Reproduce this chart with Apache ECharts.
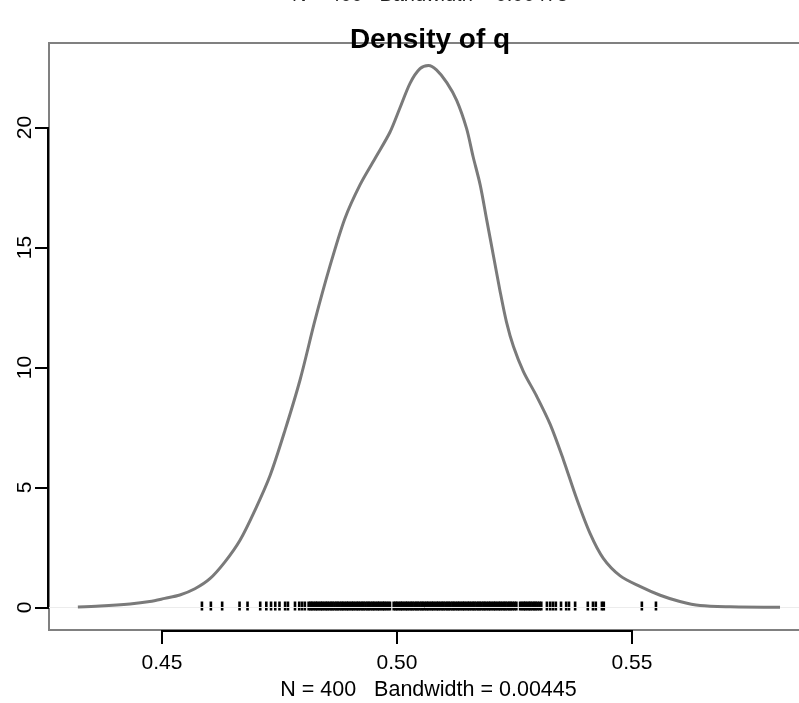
<!DOCTYPE html>
<html>
<head>
<meta charset="utf-8">
<script src="https://cdn.jsdelivr.net/npm/echarts@6/dist/echarts.min.js"></script>
<style>
html,body{margin:0;padding:0;background:#fff;overflow:hidden;}
#c{width:799px;height:703px;}
</style>
</head>
<body>
<div id="c"></div>
<script>
// ---- data ----
var densX = [0.4321, 0.4368, 0.4432, 0.4474, 0.4506, 0.4538, 0.4570, 0.4602, 0.4634, 0.4666,
             0.4698, 0.4730, 0.4762, 0.4794, 0.4826, 0.4857, 0.4889, 0.4921, 0.4953, 0.4985,
             0.5006, 0.5028, 0.5049, 0.5067, 0.5084, 0.5106, 0.5127, 0.5148, 0.5162, 0.5177,
             0.5191, 0.5205, 0.5219, 0.5233, 0.5248, 0.5269, 0.5297, 0.5326, 0.5354, 0.5382,
             0.5411, 0.5439, 0.5475, 0.5517, 0.5560, 0.5602, 0.5645, 0.5709, 0.5815];
var densY = [0.02, 0.06, 0.15, 0.25, 0.38, 0.52, 0.78, 1.20, 1.90, 2.80,
             4.06, 5.50, 7.40, 9.50, 12.00, 14.20, 16.20, 17.60, 18.70, 19.80,
             20.80, 21.85, 22.45, 22.58, 22.40, 21.87, 21.13, 19.96, 18.78, 17.61,
             16.14, 14.68, 13.21, 11.89, 10.86, 9.83, 8.81, 7.63, 6.16, 4.55,
             3.08, 2.05, 1.32, 0.88, 0.51, 0.25, 0.08, 0.03, 0.01];

var rugLeft = [0.4585, 0.4604, 0.4628, 0.4665, 0.4682, 0.4709, 0.4722, 0.4732, 0.4741, 0.4750,
               0.4762, 0.4768, 0.4783, 0.4792, 0.4798, 0.4804];
var rugMid1 = [0.4812, 0.4816, 0.4819, 0.4823, 0.4827, 0.4830, 0.4834, 0.4838, 0.4841, 0.4845,
               0.4849, 0.4852, 0.4856, 0.4860, 0.4863, 0.4867, 0.4871, 0.4874, 0.4878, 0.4882,
               0.4885, 0.4889, 0.4893, 0.4896, 0.4900, 0.4904, 0.4907, 0.4911, 0.4915, 0.4918,
               0.4922, 0.4926, 0.4929, 0.4933, 0.4937, 0.4940, 0.4944, 0.4948, 0.4951, 0.4955,
               0.4959, 0.4962, 0.4966, 0.4970, 0.4973, 0.4977, 0.4981, 0.4985];
var rugMid2 = [0.4993, 0.4997, 0.5000, 0.5004, 0.5008, 0.5011, 0.5015, 0.5019, 0.5022, 0.5026,
               0.5030, 0.5033, 0.5037, 0.5041, 0.5044, 0.5048, 0.5052, 0.5055, 0.5059, 0.5063,
               0.5066, 0.5070, 0.5074, 0.5077, 0.5081, 0.5085, 0.5088, 0.5092, 0.5096, 0.5099,
               0.5103, 0.5107, 0.5110, 0.5114, 0.5118, 0.5121, 0.5125, 0.5129, 0.5132, 0.5136,
               0.5140, 0.5143, 0.5147, 0.5151, 0.5154, 0.5158, 0.5162, 0.5165, 0.5169, 0.5173,
               0.5176, 0.5180, 0.5184, 0.5187, 0.5191, 0.5195, 0.5198, 0.5202, 0.5206, 0.5209,
               0.5213, 0.5217, 0.5220, 0.5224, 0.5228, 0.5231, 0.5235, 0.5239, 0.5242, 0.5246,
               0.5250, 0.5254];
var rugMid3 = [0.5262, 0.5266, 0.5270, 0.5273, 0.5277, 0.5281, 0.5284, 0.5288, 0.5292, 0.5295,
               0.5299, 0.5303, 0.5307];
var rugRight = [0.5319, 0.5326, 0.5332, 0.5338, 0.5349, 0.5360, 0.5366, 0.5379, 0.5406, 0.5417,
                0.5423, 0.5436, 0.5440, 0.5521, 0.5551];

var xTicks = [0.45, 0.50, 0.55];
var xTickLabels = ['0.45', '0.50', '0.55'];
var yTicks = [0, 5, 10, 15, 20];
var yTickLabels = ['0', '5', '10', '15', '20'];

var titleText = 'Density of q';
var xAxisTitle = 'N = 400   Bandwidth = 0.00445';
var clippedTopText = 'N = 400   Bandwidth = 0.00473';

// ---- axis ranges (R-style 4% padding) ----
var xMin = 0.42596, xMax = 0.58745;
var yMin = -0.9375, yMax = 23.52;

var FONT = '"Liberation Sans", Arial, sans-serif';

var curve = densX.map(function (x, i) { return [x, densY[i]]; });
var rugAll = rugLeft.concat(rugMid1, rugMid2, rugMid3, rugRight);
var rugData = rugAll.map(function (x) { return [x, 0]; });

// axis segment drawn through the library's coordinate system, nudged 1px outward like R's axis
function axisSegment(p0, p1, dx, dy) {
  return {
    type: 'custom', silent: true, clip: false, z: 5,
    data: [[p0[0], p0[1], p1[0], p1[1]]],
    renderItem: function (params, api) {
      var a = api.coord([api.value(0), api.value(1)]);
      var b = api.coord([api.value(2), api.value(3)]);
      return {
        type: 'line',
        shape: {x1: a[0] + dx, y1: a[1] + dy, x2: b[0] + dx, y2: b[1] + dy},
        style: {stroke: '#000', lineWidth: 2}
      };
    }
  };
}

var chart = echarts.init(document.getElementById('c'), null, {renderer: 'canvas'});
chart.setOption({
  animation: false,
  backgroundColor: '#fff',
  title: {
    text: titleText,
    left: 425,
    top: 21,
    textAlign: 'center',
    textStyle: {fontFamily: FONT, fontWeight: 'bold', fontSize: 28, color: '#000'}
  },
  graphic: [{
    type: 'text',
    x: 430, y: 5,
    style: {
      text: clippedTopText, font: '20px ' + FONT, fill: '#222',
      textAlign: 'center', textVerticalAlign: 'bottom'
    },
    silent: true
  }],
  grid: {
    left: 49, top: 43, width: 759, height: 587,
    outerBoundsMode: 'none', containLabel: false,
    show: true, borderColor: '#808080', borderWidth: 2, backgroundColor: 'transparent'
  },
  xAxis: {
    type: 'value', min: xMin, max: xMax,
    axisLine: {show: false, onZero: false},
    splitLine: {show: false},
    axisTick: {show: true, inside: false, customValues: xTicks, length: 14, lineStyle: {color: '#000', width: 2}},
    axisLabel: {
      customValues: xTicks,
      formatter: function (v) { return xTickLabels[xTicks.indexOf(v)] || ''; },
      fontFamily: FONT, fontSize: 21, color: '#000', margin: 23
    },
    name: xAxisTitle, nameLocation: 'middle', nameGap: 47,
    nameTextStyle: {fontFamily: FONT, fontSize: 21.5, color: '#000'}
  },
  yAxis: {
    type: 'value', min: yMin, max: yMax,
    axisLine: {show: false, onZero: false},
    splitLine: {show: false},
    axisTick: {show: true, inside: false, customValues: yTicks, length: 14, lineStyle: {color: '#000', width: 2}},
    axisLabel: {
      customValues: yTicks,
      formatter: function (v) { return yTickLabels[yTicks.indexOf(v)] || ''; },
      rotate: 90,
      fontFamily: FONT, fontSize: 21, color: '#000', margin: 13
    }
  },
  series: [
    { // faint zero line
      type: 'line', silent: true, symbol: 'none', clip: false,
      data: [[xMin, 0], [xMax, 0]],
      lineStyle: {color: '#ececec', width: 1}
    },
    { // rug
      type: 'scatter', silent: true,
      data: rugData,
      symbol: 'rect', symbolSize: [2.6, 9], symbolOffset: [0, -1.5],
      itemStyle: {color: '#000', opacity: 1}
    },
    { // density curve
      type: 'line', silent: true, symbol: 'none', smooth: 0.3,
      data: curve,
      lineStyle: {color: '#7a7a7a', width: 3}
    },
    axisSegment([xTicks[0], yMin], [xTicks[xTicks.length - 1], yMin], 0, 1),
    axisSegment([xMin, yTicks[0]], [xMin, yTicks[yTicks.length - 1]], -1, 0)
  ]
});
</script>
</body>
</html>
